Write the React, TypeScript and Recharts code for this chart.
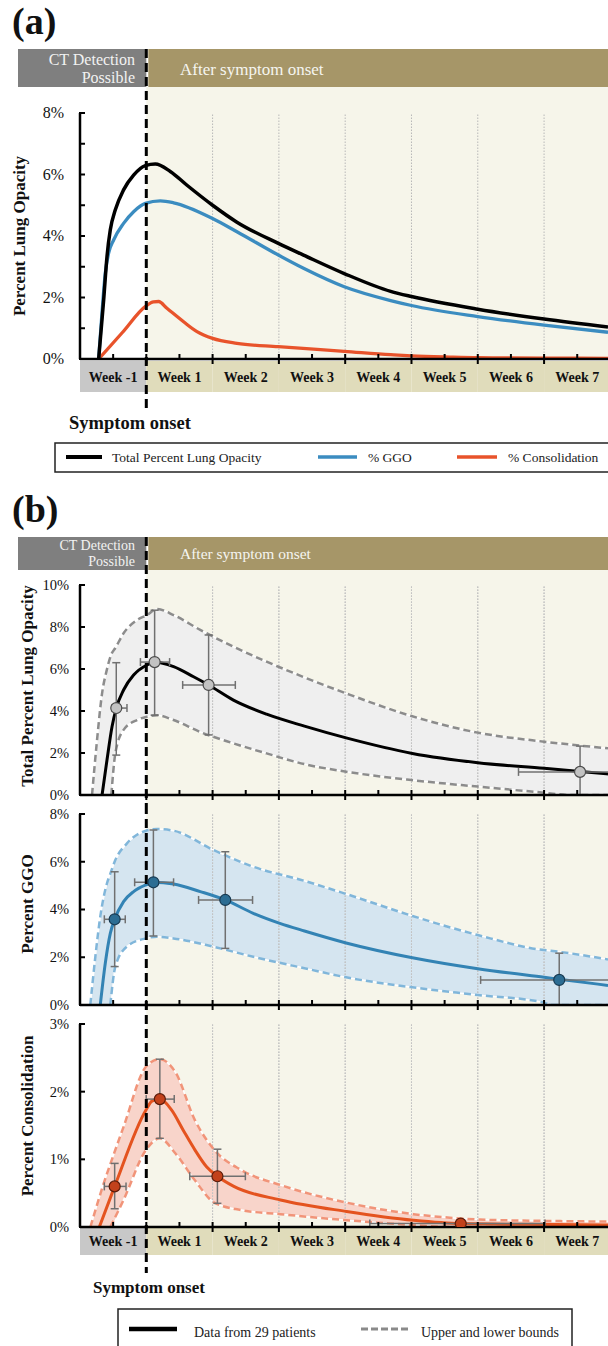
import React from 'react';
import { ComposedChart, Line, Area, Scatter, ErrorBar, XAxis, YAxis, ReferenceLine } from 'recharts';

const SERIF = "'Liberation Serif', 'Times New Roman', serif";
const W = 608;
const PLOT_LEFT = 80;
const X_MIN = -7;
const X_MAX = 48.75;
const AXIS_H = 8;
const xPx = (d: number) => PLOT_LEFT + ((d - X_MIN) / (X_MAX - X_MIN)) * (W - PLOT_LEFT);
const WEEK_PX = xPx(7) - xPx(0);

// axis / band labels
const weekLabels = ['Week -1', 'Week 1', 'Week 2', 'Week 3', 'Week 4', 'Week 5', 'Week 6', 'Week 7'];
const weekStarts = [-7, 0, 7, 14, 21, 28, 35, 42];
const xTicks = [-3.5, 0, 3.5, 7, 10.5, 14, 17.5, 21, 24.5, 28, 31.5, 35, 38.5, 42, 45.5];
const gridDays = [7, 14, 21, 28, 35, 42];

// ---- panel (a): mean curves ----
const aTotalDays = [-5.03, -4.5, -4.15, -3.8, -3.27, -2.4, -1.34, -0.1, 0.95, 2.53, 4.3, 7.0, 9.57, 13.94, 16.6, 20.9, 25.8, 28, 35, 42, 48.75];
const aTotal = [0, 1.92, 3.33, 4.2, 4.85, 5.5, 5.98, 6.29, 6.34, 6.1, 5.65, 5.0, 4.45, 3.76, 3.38, 2.78, 2.2, 2.03, 1.62, 1.3, 1.04];
const aGgoDays = [-5.03, -4.68, -4.33, -3.98, -3.45, -2.4, -1.34, -0.1, 1.48, 2.88, 7.0, 9.57, 13.94, 16.6, 20.9, 25.8, 28, 35, 42, 48.75];
const aGgo = [0, 1.49, 2.79, 3.44, 3.87, 4.41, 4.79, 5.06, 5.14, 5.08, 4.57, 4.14, 3.38, 2.95, 2.35, 1.9, 1.74, 1.38, 1.1, 0.87];
const aConsDays = [-5.03, -2.5, -0.05, 0.77, 1.3, 2.18, 3.94, 5.35, 7.0, 9.57, 13.94, 20.9, 25.8, 28, 32, 35, 42, 48.75];
const aCons = [0, 0.87, 1.72, 1.86, 1.87, 1.65, 1.21, 0.89, 0.67, 0.51, 0.4, 0.25, 0.14, 0.1, 0.06, 0.04, 0.03, 0.02];

// ---- panel (b1): total opacity ----
const b1Days = [-4.67, -4.15, -3.62, -3.17, -2.4, -1.34, 0.07, 0.88, 2.88, 4.99, 6.58, 9.2, 12.7, 16.7, 21.1, 28.1, 35, 42, 45.8, 48.75];
const b1Mean = [0, 1.67, 3.25, 4.14, 5.0, 5.71, 6.19, 6.33, 6.11, 5.63, 5.24, 4.52, 3.85, 3.28, 2.72, 1.98, 1.54, 1.27, 1.12, 1.0];
const b1BandDays = [-5.73, -5.2, -4.67, -4.2, -3.69, -3.27, -2.4, -0.98, 0.07, 1.13, 2.88, 5.7, 9.2, 12.7, 16.7, 21.1, 28, 35, 42, 44.8, 48.75];
const b1Upper = [0, 2.62, 4.84, 5.9, 6.7, 7.0, 7.7, 8.33, 8.57, 8.86, 8.57, 7.86, 7.06, 6.35, 5.6, 4.84, 3.76, 2.97, 2.54, 2.4, 2.22];
const b1Lower = [0, 0, 0, 0, 0, 1.98, 3.1, 3.57, 3.73, 3.8, 3.57, 3.0, 2.46, 1.98, 1.47, 1.11, 0.71, 0.4, 0.11, 0, 0];
const b1PtX = [-3.17, 0.88, 6.58, 45.8];
const b1PtY = [4.14, 6.33, 5.24, 1.1];
const b1ExLo = [0.45, 1.5, 2.74, 6.5];
const b1ExHi = [1.13, 1.58, 2.82, 6.5];
const b1EyLo = [2.24, 2.53, 2.38, 1.1];
const b1EyHi = [2.16, 2.47, 2.38, 1.23];

// ---- panel (b2): GGO ----
const b2Days = [-4.86, -4.33, -3.8, -3.34, -2.4, -1.34, -0.03, 0.75, 2.88, 5.7, 8.34, 11.3, 14.1, 16.7, 21.1, 28.1, 35, 42, 43.6, 48.75];
const b2Mean = [0, 1.75, 3.0, 3.59, 4.33, 4.75, 5.03, 5.14, 5.07, 4.75, 4.4, 3.84, 3.42, 3.1, 2.6, 1.98, 1.52, 1.16, 1.08, 0.82];
const b2BandDays = [-5.91, -5.38, -4.86, -4.15, -3.8, -3.27, -2.04, -0.03, 1.13, 2.88, 7.1, 11.3, 16.7, 21.1, 28.1, 35, 42, 42.7, 48.75];
const b2Upper = [0, 2.02, 3.7, 5.1, 5.5, 6.07, 6.77, 7.3, 7.37, 7.3, 6.49, 5.79, 5.2, 4.65, 3.73, 2.93, 2.3, 2.27, 1.91];
const b2Lower = [0, 0, 0, 0, 0, 1.61, 2.45, 2.79, 2.86, 2.79, 2.44, 2.02, 1.54, 1.16, 0.74, 0.42, 0.1, 0, 0];
const b2PtX = [-3.34, 0.75, 8.34, 43.6];
const b2PtY = [3.59, 5.14, 4.4, 1.05];
const b2ExLo = [1.09, 1.98, 2.82, 8.3];
const b2ExHi = [1.12, 2.13, 2.88, 8.3];
const b2EyLo = [1.98, 2.25, 2.03, 1.05];
const b2EyHi = [1.99, 2.19, 2.02, 1.12];

// ---- panel (b3): consolidation ----
const b3Days = [-4.96, -3.34, -0.03, 0.6, 1.43, 2.66, 3.9, 5.13, 6.36, 7.51, 9.24, 14.17, 21.15, 28.2, 33.2, 40, 48.75];
const b3Mean = [0, 0.6, 1.73, 1.86, 1.89, 1.73, 1.43, 1.14, 0.89, 0.75, 0.6, 0.4, 0.23, 0.1, 0.05, 0.04, 0.03];
const b3BandDays = [-5.9, -4.15, -3.8, -2.4, -0.03, 1.43, 3.06, 5.13, 7.18, 10.05, 14.17, 21.15, 28.2, 31.8, 35.2, 42.2, 48.75];
const b3Upper = [0, 0.79, 0.93, 1.48, 2.37, 2.48, 2.29, 1.58, 1.14, 0.84, 0.62, 0.36, 0.19, 0.14, 0.11, 0.09, 0.08];
const b3Lower = [0, 0, 0, 0.4, 1.14, 1.31, 1.09, 0.69, 0.36, 0.25, 0.19, 0.1, 0.03, 0, 0, 0, 0];
const b3PtX = [-3.34, 1.43, 7.51, 33.2];
const b3PtY = [0.6, 1.89, 0.75, 0.05];
const b3ExLo = [1.09, 1.44, 2.92, 9.6];
const b3ExHi = [1.2, 1.52, 2.95, 8.9];
const b3EyLo = [0.33, 0.58, 0.4, 0.05];
const b3EyHi = [0.34, 0.59, 0.4, 0.05];

const curveRows = (xs: number[], ys: number[]) => xs.map((x, i) => ({ x, y: ys[i] }));
const bandRows = (xs: number[], lo: number[], hi: number[]) => xs.map((x, i) => ({ x, lo: lo[i], hi: hi[i] }));
const pointRows = (xs: number[], ys: number[], exl: number[], exh: number[], eyl: number[], eyh: number[]) =>
  xs.map((x, i) => ({ x, y: ys[i], ex: [exl[i], exh[i]], ey: [eyl[i], eyh[i]] }));
// lower bound line starts where it leaves the axis
const fromFirstRise = (rows: any[], key: string) => {
  const i = rows.findIndex((r) => r[key] > 0);
  return rows.slice(Math.max(0, i - 1));
};

type Panel = { top: number; bottom: number; plotTop: number; plotBottom: number; yMax: number; yTicks: number[]; labeled: number[]; fs: number; labelDx: number; lineBottom: number };

const panelA: Panel = { top: 49, bottom: 420, plotTop: 113, plotBottom: 359, yMax: 8, yTicks: [0, 1, 2, 3, 4, 5, 6, 7, 8], labeled: [0, 2, 4, 6, 8], fs: 16, labelDx: 16, lineBottom: 408 };
const panelB1: Panel = { top: 537, bottom: 805, plotTop: 585, plotBottom: 795, yMax: 10, yTicks: [0, 2, 4, 6, 8, 10], labeled: [0, 2, 4, 6, 8, 10], fs: 14.5, labelDx: 11, lineBottom: 805 };
const panelB2: Panel = { top: 805, bottom: 1015, plotTop: 814, plotBottom: 1005, yMax: 8, yTicks: [0, 2, 4, 6, 8], labeled: [0, 2, 4, 6, 8], fs: 14.5, labelDx: 11, lineBottom: 1015 };
const panelB3: Panel = { top: 1015, bottom: 1280, plotTop: 1024, plotBottom: 1227, yMax: 3, yTicks: [0, 1, 2, 3], labeled: [0, 1, 2, 3], fs: 14.5, labelDx: 11, lineBottom: 1273 };

const pxToVal = (p: Panel, px: number) => (p.yMax * (p.plotBottom - px)) / (p.plotBottom - p.plotTop);

const XTick = (props: any) => {
  const { x, y, payload } = props;
  const major = Number.isInteger(payload.value / 7);
  return <line x1={x} x2={x} y1={y - 5} y2={major ? y + 5 : y} stroke="#000" strokeWidth={2} />;
};

const makeYTick = (p: Panel) => (props: any) => {
  const { x, y, payload } = props;
  const v = payload.value;
  return (
    <g>
      <line x1={x - 1} x2={x + 5} y1={y} y2={y} stroke="#000" strokeWidth={2} />
      {p.labeled.includes(v) && (
        <text x={x - p.labelDx} y={y + p.fs * 0.34} textAnchor="end" fontSize={p.fs} fontFamily={SERIF} fill="#111">
          {v}%
        </text>
      )}
    </g>
  );
};

const axes = (p: Panel) => [
  <XAxis key="x" type="number" dataKey="x" domain={[X_MIN, X_MAX]} allowDataOverflow ticks={xTicks} interval={0} height={AXIS_H}
    tickSize={0} tickMargin={0} tickLine={false} axisLine={{ stroke: '#000', strokeWidth: 2.5 }} tick={XTick} />,
  <YAxis key="y" type="number" domain={[0, p.yMax]} allowDataOverflow ticks={p.yTicks} interval={0} width={PLOT_LEFT}
    tickSize={0} tickMargin={0} tickLine={false} axisLine={{ stroke: '#000', strokeWidth: 2.5 }} tick={makeYTick(p)} />,
  ...gridDays.map((d) => <ReferenceLine key={'g' + d} x={d} stroke="#b8b8b8" strokeWidth={1} strokeDasharray="1.5 1.5" />),
];

const onsetLine = (p: Panel) => (
  <ReferenceLine
    segment={[{ x: 0, y: pxToVal(p, p.top) }, { x: 0, y: pxToVal(p, p.lineBottom) }]}
    ifOverflow="visible" stroke="#000" strokeWidth={3} strokeDasharray="9 5"
  />
);

const chartMargin = (p: Panel) => ({ top: p.plotTop - p.top, right: 0, left: 0, bottom: p.bottom - p.plotBottom - AXIS_H });

const dotShape = (fill: string, stroke: string) => (props: any) =>
  <circle cx={props.cx} cy={props.cy} r={5.5} fill={fill} stroke={stroke} strokeWidth={1.2} />;

type SubProps = { p: Panel; curve: any[]; band: any[]; points: any[]; line: string; fill: string; dash: string; dotFill: string; dotStroke: string };

function SubPlot({ p, curve, band, points, line, fill, dash, dotFill, dotStroke }: SubProps) {
  return (
    <div style={{ position: 'absolute', left: 0, top: p.top }}>
      <ComposedChart width={W} height={p.bottom - p.top} margin={chartMargin(p)}>
        {axes(p)}
        <Area data={band} dataKey={(d: any) => [d.lo, d.hi]} type="monotone" fill={fill} fillOpacity={1} stroke="#ffffff" strokeWidth={1.5} isAnimationActive={false} />
        {gridDays.map((d) => <ReferenceLine key={'h' + d} x={d} stroke="#c4c4c4" strokeWidth={1} strokeDasharray="1.5 1.5" />)}
        <Line data={band} dataKey="hi" type="monotone" stroke={dash} strokeWidth={2.5} strokeDasharray="7 4" dot={false} activeDot={false} isAnimationActive={false} />
        <Line data={fromFirstRise(band, 'lo')} dataKey="lo" type="monotone" stroke={dash} strokeWidth={2.5} strokeDasharray="7 4" dot={false} activeDot={false} isAnimationActive={false} />
        <Line data={curve} dataKey="y" type="monotone" stroke={line} strokeWidth={3} dot={false} activeDot={false} isAnimationActive={false} />
        <Scatter data={points} dataKey="y" shape={dotShape(dotFill, dotStroke)} isAnimationActive={false}>
          <ErrorBar dataKey="ex" direction="x" width={4} stroke="#707070" strokeWidth={1.5} />
          <ErrorBar dataKey="ey" direction="y" width={4} stroke="#707070" strokeWidth={1.5} />
        </Scatter>
        {onsetLine(p)}
      </ComposedChart>
    </div>
  );
}

const headerBand = (top: number, h: number, fsSmall: number, fsBig: number, b1: number, b2: number, b3: number) => (
  <g>
    <rect x={18} y={top} width={xPx(0) - 18} height={h} fill="#7f7f7f" />
    <rect x={xPx(0) + 2} y={top} width={W - xPx(0) - 2} height={h} fill="#a69668" />
    <text x={135} y={b1} textAnchor="end" fontSize={fsSmall} fill="#f2f2f2" fontFamily={SERIF}>CT Detection</text>
    <text x={135} y={b2} textAnchor="end" fontSize={fsSmall} fill="#f2f2f2" fontFamily={SERIF}>Possible</text>
    <text x={180} y={b3} fontSize={fsBig} fill="#f5f5f0" fontFamily={SERIF}>After symptom onset</text>
  </g>
);

const weekBand = (top: number, h: number, baseline: number) => (
  <g>
    {weekStarts.map((s, i) => (
      <rect key={s} x={xPx(s)} y={top} width={Math.min(WEEK_PX, W - xPx(s))} height={h} fill={i === 0 ? '#c8c8c8' : '#e0dcbb'} />
    ))}
    {weekStarts.map((s, i) => (
      <text key={'t' + s} x={xPx(s + 3.5)} y={baseline} textAnchor="middle" fontSize={14} fontWeight="bold" fontFamily={SERIF} fill="#111">
        {weekLabels[i]}
      </text>
    ))}
  </g>
);

const yTitle = (text: string, bx: number, cy: number) => (
  <text transform={`translate(${bx},${cy}) rotate(-90)`} textAnchor="middle" fontSize={17} fontWeight="bold" fontFamily={SERIF} fill="#111">
    {text}
  </text>
);

export default function App() {
  const b1 = { curve: curveRows(b1Days, b1Mean), band: bandRows(b1BandDays, b1Lower, b1Upper), points: pointRows(b1PtX, b1PtY, b1ExLo, b1ExHi, b1EyLo, b1EyHi) };
  const b2 = { curve: curveRows(b2Days, b2Mean), band: bandRows(b2BandDays, b2Lower, b2Upper), points: pointRows(b2PtX, b2PtY, b2ExLo, b2ExHi, b2EyLo, b2EyHi) };
  const b3 = { curve: curveRows(b3Days, b3Mean), band: bandRows(b3BandDays, b3Lower, b3Upper), points: pointRows(b3PtX, b3PtY, b3ExLo, b3ExHi, b3EyLo, b3EyHi) };

  return (
    <div style={{ position: 'absolute', left: 0, top: 0, width: W, height: 1346, overflow: 'hidden', background: '#fff', fontFamily: SERIF }}>
      <svg width={W} height={1346} style={{ position: 'absolute', left: 0, top: 0 }}>
        {/* panel (a) decorations */}
        <text x={12} y={34} fontSize={38} fontWeight="bold" fontFamily={SERIF} fill="#111">(a)</text>
        {headerBand(49, 38, 16, 17, 65, 83, 75)}
        <rect x={xPx(0)} y={87} width={W - xPx(0)} height={panelA.plotBottom - 87} fill="#f6f5ea" />
        {weekBand(361, 31, 382)}
        <text x={69} y={429} fontSize={18.5} fontWeight="bold" fontFamily={SERIF} fill="#111">Symptom onset</text>
        {yTitle('Percent Lung Opacity', 25, 236)}
        <rect x={55} y={443} width={600} height={29} fill="#fff" stroke="#222" strokeWidth={1.5} />
        <line x1={66} x2={102} y1={457} y2={457} stroke="#000" strokeWidth={4} />
        <text x={112} y={462} fontSize={13.5} fontFamily={SERIF} fill="#222">Total Percent Lung Opacity</text>
        <line x1={318} x2={357} y1={457} y2={457} stroke="#3b8cc0" strokeWidth={3.5} />
        <text x={368} y={462} fontSize={13.5} fontFamily={SERIF} fill="#222">% GGO</text>
        <line x1={457} x2={497} y1={457} y2={457} stroke="#e8532b" strokeWidth={3.5} />
        <text x={508} y={462} fontSize={13.5} fontFamily={SERIF} fill="#222">% Consolidation</text>

        {/* panel (b) decorations */}
        <text x={12} y={522} fontSize={38} fontWeight="bold" fontFamily={SERIF} fill="#111">(b)</text>
        {headerBand(537, 33, 14, 15.5, 550, 566, 559)}
        <rect x={xPx(0)} y={570} width={W - xPx(0)} height={panelB3.plotBottom - 570} fill="#f6f5ea" />
        {weekBand(1228, 27, 1246)}
        <text x={93} y={1293} fontSize={17} fontWeight="bold" fontFamily={SERIF} fill="#111">Symptom onset</text>
        {yTitle('Total Percent Lung Opacity', 33, 686)}
        {yTitle('Percent GGO', 33, 904)}
        {yTitle('Percent Consolidation', 33, 1116)}
        <rect x={118} y={1309} width={454} height={60} fill="#fff" stroke="#222" strokeWidth={1.5} />
        <line x1={129} x2={177} y1={1329} y2={1329} stroke="#000" strokeWidth={4.5} />
        <text x={194} y={1337} fontSize={14} fontFamily={SERIF} fill="#222">Data from 29 patients</text>
        <line x1={361} x2={408} y1={1329} y2={1329} stroke="#8a8a8a" strokeWidth={3} strokeDasharray="7 3" />
        <text x={421} y={1337} fontSize={14} fontFamily={SERIF} fill="#222">Upper and lower bounds</text>
      </svg>

      {/* panel (a) chart */}
      <div style={{ position: 'absolute', left: 0, top: panelA.top }}>
        <ComposedChart width={W} height={panelA.bottom - panelA.top} margin={chartMargin(panelA)}>
          {axes(panelA)}
          <Line data={curveRows(aConsDays, aCons)} dataKey="y" type="monotone" stroke="#e8532b" strokeWidth={3.3} dot={false} activeDot={false} isAnimationActive={false} />
          <Line data={curveRows(aGgoDays, aGgo)} dataKey="y" type="monotone" stroke="#3b8cc0" strokeWidth={3.3} dot={false} activeDot={false} isAnimationActive={false} />
          <Line data={curveRows(aTotalDays, aTotal)} dataKey="y" type="monotone" stroke="#000" strokeWidth={3.5} dot={false} activeDot={false} isAnimationActive={false} />
          {onsetLine(panelA)}
        </ComposedChart>
      </div>

      <SubPlot p={panelB1} {...b1} line="#000" fill="#efefef" dash="#8c8c8c" dotFill="#c2c2c2" dotStroke="#4a4a4a" />
      <SubPlot p={panelB2} {...b2} line="#3383b4" fill="#d5e5f0" dash="#80b6da" dotFill="#2c6d93" dotStroke="#173a52" />
      <SubPlot p={panelB3} {...b3} line="#e4531f" fill="#f8d4ca" dash="#f19479" dotFill="#c2411b" dotStroke="#5c1c0a" />
    </div>
  );
}
